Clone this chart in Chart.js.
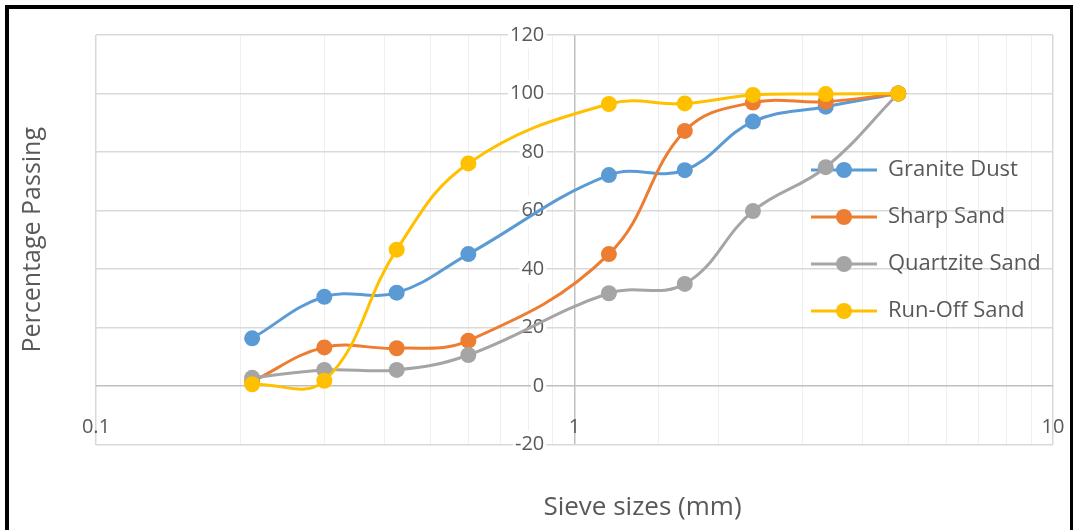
<!DOCTYPE html>
<html>
<head>
<meta charset="utf-8">
<script src="https://cdn.jsdelivr.net/npm/chart.js@4.4.1/dist/chart.umd.min.js"></script>
<style>
  html, body { margin: 0; padding: 0; background: #fff; }
  #wrap { position: relative; width: 1073px; height: 530px; overflow: hidden; }
  #myChart { position: absolute; left: 0; top: 0; }
  #frame { position: absolute; left: 5px; top: 5px; width: 1061px; height: 600px; border: 4px solid #000; pointer-events: none; }
</style>
</head>
<body>
<div id="wrap">
  <canvas id="myChart" width="1073" height="530"></canvas>
  <div id="frame"></div>
</div>
<script>
// sieve sizes (mm) and % passing
const sieveSizes = [0.212, 0.3, 0.425, 0.6, 1.18, 1.7, 2.36, 3.35, 4.75]
const graniteDust = [16.3, 30.5, 31.9, 45.1, 72.1, 73.8, 90.4, 95.5, 100]
const sharpSand = [1.5, 13.2, 12.9, 15.5, 45.1, 87.2, 96.9, 97.2, 100]
const quartziteSand = [2.8, 5.5, 5.5, 10.6, 31.7, 34.9, 59.8, 74.8, 100]
const runOffSand = [0.6, 1.8, 46.6, 76.1, 96.4, 96.6, 99.5, 99.8, 100]

const seriesNames = ['Granite Dust', 'Sharp Sand', 'Quartzite Sand', 'Run-Off Sand']
const seriesValues = [graniteDust, sharpSand, quartziteSand, runOffSand]
const seriesColors = ['#5b9bd5', '#ed7d31', '#a5a5a5', '#ffc000']

const xTickLabels = ['0.1', '1', '10']
const yMin = -20
const yMax = 120
const yStep = 20

Chart.defaults.font.family = "'Open Sans', sans-serif"
Chart.defaults.color = '#595959'

// excel style legend key: short line with a dot on it
function legendGlyph(color) {
  const c = document.createElement('canvas')
  c.width = 66
  c.height = 20
  const g = c.getContext('2d')
  g.strokeStyle = color
  g.lineWidth = 3
  g.beginPath()
  g.moveTo(0, 10)
  g.lineTo(66, 10)
  g.stroke()
  g.fillStyle = color
  g.beginPath()
  g.arc(33, 10, 8, 0, Math.PI * 2)
  g.fill()
  return c
}
const glyphs = seriesColors.map(legendGlyph)

const datasets = seriesNames.map((name, i) => ({
  label: name,
  data: sieveSizes.map((s, j) => ({ x: s, y: seriesValues[i][j] })),
  borderColor: seriesColors[i],
  backgroundColor: seriesColors[i],
  borderWidth: 3,
  pointRadius: 8,
  pointBorderWidth: 0,
  tension: 0.4,
  order: seriesNames.length - i
}))

const near = (a, b) => Math.abs(a - b) < 1e-9

// move legend into the plot and the x title a bit right, like the excel original
const nudge = {
  id: 'nudge',
  afterLayout(chart) {
    const area = chart.chartArea
    const lg = chart.legend
    const w = lg.width
    lg.left = area.left + 690
    lg.right = lg.left + w
    lg.top = area.top + 99
    lg.bottom = lg.top + 400
    const x = chart.scales.x
    x.left += 68
    x.right += 68
  }
}

const ctx = document.getElementById('myChart')

new Chart(ctx, {
  type: 'line',
  data: { datasets: datasets },
  options: {
    responsive: false,
    animation: false,
    layout: { padding: { top: 35, right: 20, bottom: 0, left: 0 } },
    plugins: {
      tooltip: { enabled: false },
      legend: {
        position: 'chartArea',
        align: 'start',
        fullSize: false,
        labels: {
          usePointStyle: true,
          pointStyleWidth: 66,
          padding: 25,
          color: '#595959',
          font: { size: 22 },
          generateLabels(chart) {
            const items = Chart.defaults.plugins.legend.labels.generateLabels(chart)
            items.sort((a, b) => a.datasetIndex - b.datasetIndex)
            items.forEach(it => { it.pointStyle = glyphs[it.datasetIndex] })
            return items
          }
        }
      }
    },
    scales: {
      x: {
        type: 'logarithmic',
        min: 0.1,
        max: 10,
        afterFit: s => { s.height = 85.5 },
        border: { display: false },
        grid: {
          drawTicks: false,
          color: c => {
            const v = c.tick.value
            if (near(v, 1)) return '#bfbfbf'
            if (near(v, 0.1) || near(v, 10)) return '#d9d9d9'
            return '#efefef'
          },
          lineWidth: c => (near(c.tick.value, 1) || near(c.tick.value, 0.1) || near(c.tick.value, 10)) ? 1.5 : 1
        },
        ticks: {
          autoSkip: false,
          maxRotation: 0,
          mirror: true,
          padding: 5,
          color: '#595959',
          font: { size: 20 },
          callback: v => {
            const s = String(+Number(v).toPrecision(6))
            return xTickLabels.includes(s) ? s : ''
          }
        },
        title: {
          display: true,
          text: 'Sieve sizes (mm)',
          color: '#595959',
          font: { size: 26 },
          padding: { top: 0, bottom: 7 }
        }
      },
      y: {
        min: yMin,
        max: yMax,
        // labels sit next to the x = 1 axis, so the big tick padding must not eat the plot height
        afterFit: s => {
          s.width = 96
          s.paddingTop = 0
          s.paddingBottom = 0
        },
        border: { display: false },
        grid: {
          drawTicks: false,
          color: c => c.tick.value === 0 ? '#bfbfbf' : '#d9d9d9',
          lineWidth: 1.5
        },
        ticks: {
          stepSize: yStep,
          mirror: true,
          crossAlign: 'far',
          padding: 414,
          color: '#595959',
          font: { size: 20 },
          showLabelBackdrop: true,
          backdropColor: '#ffffff',
          backdropPadding: 2
        },
        title: {
          display: true,
          text: 'Percentage Passing',
          color: '#595959',
          font: { size: 25 },
          padding: { top: 18, bottom: 0 }
        }
      }
    }
  },
  plugins: [nudge]
})
</script>
</body>
</html>
